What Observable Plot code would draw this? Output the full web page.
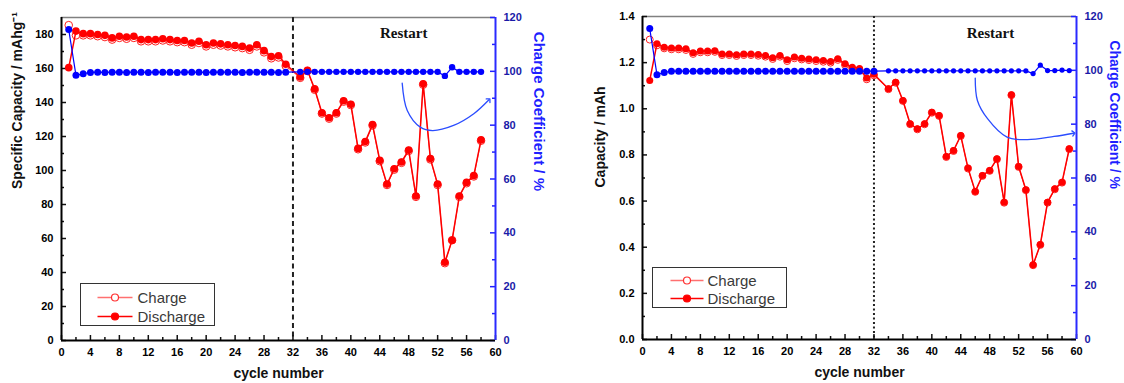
<!DOCTYPE html>
<html><head><meta charset="utf-8">
<script src="https://cdn.jsdelivr.net/npm/d3@7"></script>
<script src="https://cdn.jsdelivr.net/npm/@observablehq/plot@0.6"></script>
<style>
body{margin:0;background:#fff;}
#wrap{position:relative;width:1124px;height:383px;display:flex;font-family:"Liberation Sans",Arial,sans-serif;overflow:hidden;}
#wrap svg{overflow:visible;}
.legend{position:absolute;box-sizing:border-box;border:1.5px solid #333;background:#fff;}
</style></head><body><div id="wrap"></div>
<script>
// ---------- data ----------
const xTicks = [0,4,8,12,16,20,24,28,32,36,40,44,48,52,56,60];
const xMinorTicks = [2,6,10,14,18,22,26,30,34,38,42,46,50,54,58];
const coefTicks = [0,20,40,60,80,100,120];
const coefMinorTicks = [10,30,50,70,90,110];

// left panel: specific capacity (mAh g-1)
const leftCycles = [1,2,3,4,5,6,7,8,9,10,11,12,13,14,15,16,17,18,19,20,21,22,23,24,25,26,27,28,29,30,31,
  33,34,35,36,37,38,39,40,41,42,43,44,45,46,47,48,49,50,51,52,53,54,55,56,57,58];
const leftDischarge = [160.5,182,180.5,180.5,180,179.5,178,179,178.5,179,177,177,177,177.5,177,176.5,176.5,175,176,174,175,174.5,174,173.5,173,172,174,170.5,167,167.5,162.5,
  155,159,148,134,131,134,141,139,113,117,127,106,92,101,105,112,85,151,107,92,46,59,85,93,97,118];
const leftCharge = [185.5,179.5,179.5,179.5,179,178.5,177,178,177.5,178,176,176,176,176.5,176,175.5,175.5,174,175,173,174,173.5,173,172.5,172,171,173,169.5,166,166.5,161.5,
  154.5,158.5,147.5,133.5,130.5,133.5,140.5,138.5,112.5,116.5,126.5,105.5,91.5,100.5,104.5,111.5,84.5,150.5,106.5,91.5,45.5,59,84.5,92.5,96.5,117.5];
const leftCoef = [115.5,98.5,99.1,99.6,99.7,99.6,99.7,99.7,99.6,99.7,99.7,99.6,99.7,99.7,99.7,99.6,99.7,99.7,99.7,99.6,99.7,99.7,99.7,99.7,99.6,99.7,99.7,99.7,99.7,99.6,99.7,
  99.8,99.8,99.8,99.8,99.8,99.8,99.8,99.8,99.8,99.8,99.8,99.8,99.8,99.8,99.8,99.8,99.8,99.8,99.8,99.8,98.3,101.5,99.8,99.8,99.8,99.8];
const leftYTicks = [0,20,40,60,80,100,120,140,160,180];
const leftYMinor = [10,30,50,70,90,110,130,150,170];
const leftArrow = [{cycle:47.1,value:151.4},{cycle:47.8,value:135.3},{cycle:49.6,value:125.5},{cycle:51.3,value:123.5},{cycle:54.2,value:126.5},{cycle:57.0,value:133.4},{cycle:59.1,value:141.6}];
const leftNote = [{cycle:47.3,value:180.6,label:"Restart"}];

// right panel: capacity (mAh)
const rightCycles = [1,2,3,4,5,6,7,8,9,10,11,12,13,14,15,16,17,18,19,20,21,22,23,24,25,26,27,28,29,30,31,32,
  34,35,36,37,38,39,40,41,42,43,44,45,46,47,48,49,50,51,52,53,54,55,56,57,58,59];
const rightDischarge = [1.123,1.282,1.267,1.263,1.263,1.26,1.243,1.25,1.25,1.252,1.238,1.238,1.234,1.238,1.238,1.235,1.231,1.221,1.231,1.212,1.224,1.219,1.216,1.212,1.209,1.205,1.217,1.195,1.18,1.175,1.133,1.15,
  1.087,1.115,1.036,0.935,0.913,0.935,0.985,0.971,0.793,0.819,0.884,0.743,0.642,0.711,0.733,0.783,0.595,1.061,0.75,0.649,0.324,0.412,0.595,0.653,0.682,0.827];
const rightCharge = [1.300,1.275,1.262,1.258,1.258,1.255,1.238,1.245,1.245,1.247,1.233,1.233,1.229,1.233,1.233,1.23,1.226,1.216,1.226,1.207,1.219,1.214,1.211,1.207,1.204,1.2,1.212,1.19,1.175,1.17,1.128,1.145,
  1.085,1.113,1.034,0.933,0.911,0.933,0.983,0.969,0.791,0.817,0.882,0.741,0.64,0.709,0.731,0.781,0.593,1.059,0.748,0.647,0.322,0.41,0.593,0.651,0.68,0.825];
const rightCoef = [115.5,98.4,99.2,99.7,99.7,99.7,99.7,99.7,99.7,99.7,99.7,99.7,99.7,99.7,99.7,99.7,99.7,99.7,99.7,99.7,99.7,99.7,99.7,99.7,99.7,99.7,99.7,99.7,99.7,99.7,99.7,99.7,
  99.8,99.8,99.8,99.8,99.8,99.8,99.8,99.8,99.8,99.8,99.8,99.8,99.8,99.8,99.8,99.8,99.8,99.8,99.8,99.8,98.8,101.9,99.9,99.9,100.1,99.9];
const rightYTicks = [0,0.2,0.4,0.6,0.8,1.0,1.2,1.4];
const rightYMinor = [0.1,0.3,0.5,0.7,0.9,1.1,1.3];
const rightArrow = [{cycle:46.0,value:1.133},{cycle:46.3,value:1.036},{cycle:47.7,value:0.957},{cycle:50.4,value:0.877},{cycle:53.2,value:0.866},{cycle:56.9,value:0.880},{cycle:59.6,value:0.894}];
const rightNote = [{cycle:48.1,value:1.326,label:"Restart"}];

// ---------- drawing ----------
function panel(cfg){
  const k = cfg.yMax/120;
  const D = cfg.cycles.map((c,i)=>({cycle:c, value:cfg.discharge[i]}));
  const C = cfg.cycles.map((c,i)=>({cycle:c, value:cfg.charge[i]}));
  const E = cfg.cycles.map((c,i)=>({cycle:c, coef:cfg.coef[i]}));
  const W = 562, H = 383;
  const pw = W - cfg.ml - cfg.mr, ph = H - cfg.mt - cfg.mb;
  const bold = {fontSize:11, fontWeight:"bold"};
  return Plot.plot({
    width:W, height:H, marginLeft:cfg.ml, marginRight:cfg.mr, marginTop:cfg.mt, marginBottom:cfg.mb,
    style:{fontFamily:"'Liberation Sans', Arial, sans-serif", background:"transparent", overflow:"visible"},
    x:{domain:[0,60]},
    y:{domain:[0,cfg.yMax]},
    marks:[
      Plot.ruleY([cfg.yMax], {stroke:"#808080", strokeWidth:1.3}),
      Plot.ruleX([32], {stroke:"#222", strokeWidth:cfg.dashW, strokeDasharray:cfg.dash}),
      Plot.tickX(xTicks, {x:d=>d, insetTop:ph-5, stroke:"#111", strokeWidth:1.5}),
      Plot.tickX(xMinorTicks, {x:d=>d, insetTop:ph-3, stroke:"#111", strokeWidth:1.5}),
      Plot.tickY(cfg.yTicks, {y:d=>d, insetRight:pw-5, stroke:"#111", strokeWidth:1.5}),
      Plot.tickY(cfg.yMinor, {y:d=>d, insetRight:pw-3, stroke:"#111", strokeWidth:1.5}),
      Plot.tickY(coefTicks, {y:d=>d*k, insetLeft:pw-5, stroke:"#2020ff", strokeWidth:1.5}),
      Plot.tickY(coefMinorTicks, {y:d=>d*k, insetLeft:pw-3, stroke:"#2020ff", strokeWidth:1.5}),
      Plot.axisX(xTicks, {tickSize:0, tickPadding:8, label:null, ...bold}),
      Plot.axisY(cfg.yTicks, {tickSize:0, tickPadding:8, label:null, tickFormat:cfg.fmt, ...bold}),
      Plot.axisY(coefTicks.map(d=>d*k), {anchor:"right", tickSize:0, tickPadding:8, label:null, tickFormat:d=>String(Math.round(d/k)), fill:"#1a1aa8", ...bold}),
      Plot.ruleY([0], {stroke:"#000", strokeWidth:2}),
      Plot.ruleX([0], {stroke:"#000", strokeWidth:2}),
      Plot.ruleX([60], {stroke:"#2a2aff", strokeWidth:2}),
      Plot.line(C, {x:"cycle", y:"value", stroke:"#ff5050", strokeWidth:1}),
      Plot.dot(C, {x:"cycle", y:"value", r:cfg.rRed, stroke:"#ff2020", fill:"white", strokeWidth:1}),
      Plot.line(D, {x:"cycle", y:"value", stroke:"#ff0000", strokeWidth:1.5}),
      Plot.dot(D, {x:"cycle", y:"value", r:cfg.rRed, fill:"#ff0000"}),
      Plot.line(E, {x:"cycle", y:d=>d.coef*k, stroke:"#0000ff", strokeWidth:1.2}),
      Plot.dot(E.filter(d=>d.cycle<32.5), {x:"cycle", y:d=>d.coef*k, r:cfg.rBlue1, fill:"#0000ff"}),
      Plot.dot(E.filter(d=>d.cycle>32.5), {x:"cycle", y:d=>d.coef*k, r:cfg.rBlue2, fill:"#0000ff"}),
      Plot.line(cfg.arrow, {x:"cycle", y:"value", curve:"catmull-rom", stroke:"#2a4cff", strokeWidth:1.3, markerEnd:"arrow"}),
      Plot.text(cfg.note, {x:"cycle", y:"value", text:"label", fontSize:15, fontWeight:"bold", fontFamily:"'Liberation Serif', serif", fill:"#111"}),
      Plot.text([cfg.yTitle], {frameAnchor:"left", text:d=>d, rotate:-90, dx:cfg.yTitleDx, dy:cfg.yTitleDy, fontSize:14, fontWeight:"bold", fill:"#111"}),
      Plot.text(["Charge Coefficient / %"], {frameAnchor:"right", text:d=>d, rotate:90, dx:cfg.cTitleDx, dy:cfg.cTitleDy, fontSize:cfg.cTitleSize, fontWeight:"bold", fill:"#1f1fff"}),
      Plot.text(["cycle number"], {frameAnchor:"bottom", text:d=>d, dy:37, fontSize:14, fontWeight:"bold", fill:"#111"})
    ]
  });
}

const wrap = document.getElementById("wrap");
wrap.appendChild(panel({
  cycles:leftCycles, discharge:leftDischarge, charge:leftCharge, coef:leftCoef,
  yMax:190, yTicks:leftYTicks, yMinor:leftYMinor, fmt:d=>String(d),
  ml:61, mr:67, mt:17, mb:43, dash:"5,3.5", dashW:2,
  rRed:3.8, rBlue1:3.5, rBlue2:3.2,
  arrow:leftArrow, note:leftNote,
  yTitle:"Specific Capacity / mAhg\u207B\u00B9", yTitleDx:-44, yTitleDy:10, cTitleDx:43, cTitleDy:12, cTitleSize:15
}));
wrap.appendChild(panel({
  cycles:rightCycles, discharge:rightDischarge, charge:rightCharge, coef:rightCoef,
  yMax:1.4, yTicks:rightYTicks, yMinor:rightYMinor, fmt:d3.format(".1f"),
  ml:80, mr:48, mt:16, mb:44, dash:"2,2.5", dashW:2,
  rRed:3.5, rBlue1:3.5, rBlue2:2.6,
  arrow:rightArrow, note:rightNote,
  yTitle:"Capacity / mAh", yTitleDx:-42, yTitleDy:9.5, cTitleDx:38, cTitleDy:11, cTitleSize:14
}));

// legends
function legend(left, top, w, h, rows){
  const div = document.createElement("div");
  div.className = "legend";
  Object.assign(div.style, {left:left+"px", top:top+"px", width:w+"px", height:h+"px"});
  const svg = d3.create("svg").attr("width", w-3).attr("height", h-3).style("position","absolute").style("left","0").style("top","0");
  const items = [{label:"Charge", line:"#ff7070", fill:"#fff", stroke:"#ff3030"},{label:"Discharge", line:"#ff0000", fill:"#ff0000", stroke:"#ff0000"}];
  items.forEach((it,i)=>{
    const y = rows.y[i];
    svg.append("line").attr("x1",rows.x1).attr("x2",rows.x2).attr("y1",y).attr("y2",y).attr("stroke",it.line).attr("stroke-width",1.3);
    svg.append("circle").attr("cx",(rows.x1+rows.x2)/2).attr("cy",y).attr("r",3.5).attr("fill",it.fill).attr("stroke",it.stroke).attr("stroke-width",1.2);
    svg.append("text").attr("x",rows.tx).attr("y",y).attr("dominant-baseline","central").attr("font-size",15).attr("fill","#3a3a3a").attr("font-family","'Liberation Sans', Arial, sans-serif").text(it.label);
  });
  div.appendChild(svg.node());
  wrap.appendChild(div);
}
legend(80, 283, 135, 43, {y:[13.5,32.5], x1:16.5, x2:51.5, tx:56.5});
legend(652, 267, 135, 41, {y:[12.5,30.5], x1:17.5, x2:50.5, tx:54.5});
</script>
</body></html>
